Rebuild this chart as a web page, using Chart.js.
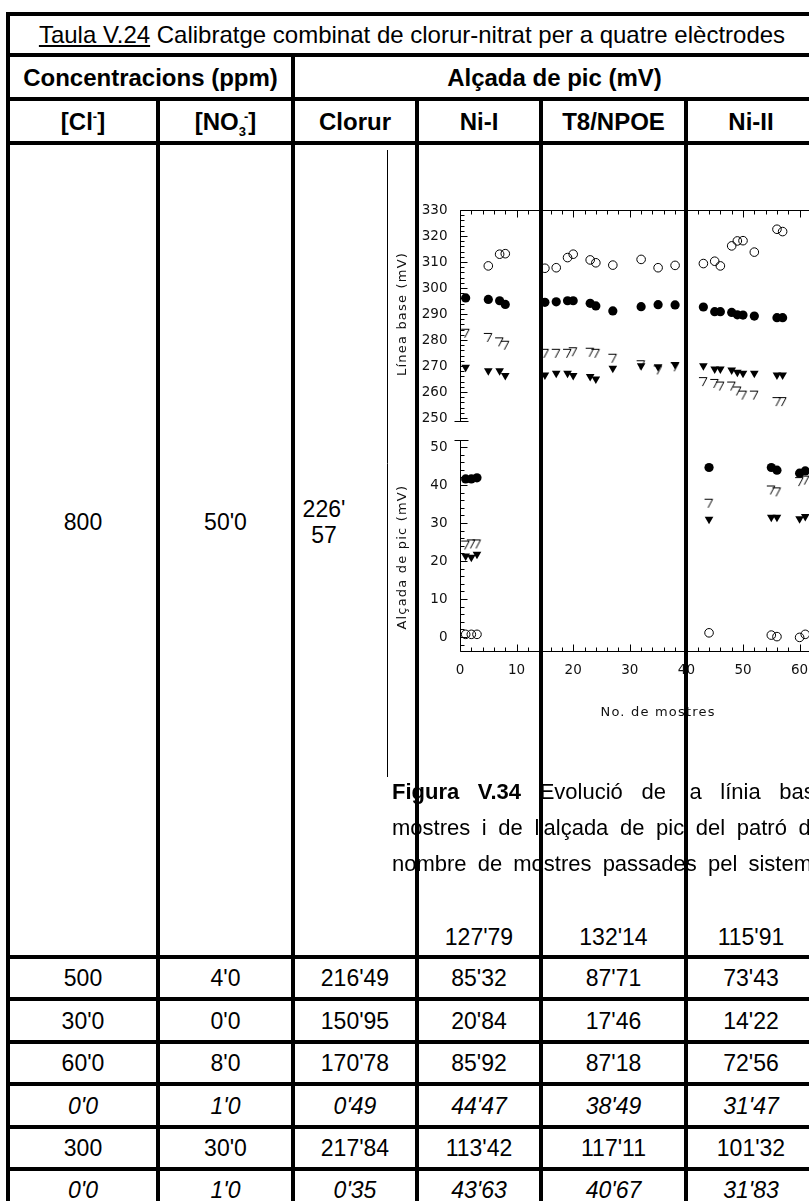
<!DOCTYPE html>
<html lang="ca">
<head>
<meta charset="utf-8">
<title>Taula V.24</title>
<script src="https://cdn.jsdelivr.net/npm/chart.js@4.4.0/dist/chart.umd.min.js"></script>
<style>
  html, body { margin: 0; padding: 0; background: #fff; overflow: hidden; }
  #page { position: relative; width: 809px; height: 1201px; overflow: hidden;
          font-family: "Liberation Sans", Arial, sans-serif; color: #000; }
  .ln  { position: absolute; background: #000; z-index: 3; }
  .txt { position: absolute; z-index: 2; text-align: center; white-space: nowrap;
         font-size: 23px; height: 40px; line-height: 40px; }
  .hd  { font-weight: bold; font-size: 24px; }
  .it  { font-style: italic; }
  #fig { position: absolute; left: 380px; top: 150px; z-index: 1; }
  .cap { position: absolute; left: 392px; z-index: 1; font-size: 22px; line-height: 36px; white-space: nowrap; }
  .sup { font-size: 13px; position: relative; top: -9px; }
  .sub { font-size: 13px; position: relative; top: 6px; }
</style>
</head>
<body>
<div id="page">
  <canvas id="fig" width="500" height="640"></canvas>
  <div class="cap" style="top:774px; word-spacing:12.5px"><b>Figura V.34</b> Evolució de la línia base</div>
  <div class="cap" style="top:810px; word-spacing:5.5px">mostres i de l'alçada de pic del patró de</div>
  <div class="cap" style="top:846px; word-spacing:5px">nombre de mostres passades pel sistema</div>
</div>
<script>
// --- 1. DATA ---

// Línia base (mV), panell superior
const baseOpenX = [5, 7, 8, 15, 17, 19, 20, 23, 24, 27, 32, 35, 38, 43, 45, 46, 48, 49, 50, 52, 56, 57];
const baseOpenY = [308.5, 313, 313.2, 307.6, 307.8, 311.7, 313, 310.8, 309.7, 308.8, 311, 307.8, 308.7,
                   309.4, 310.3, 308.5, 316.2, 318.1, 318.2, 313.8, 322.6, 321.7];
const baseX = [1, 5, 7, 8, 15, 17, 19, 20, 23, 24, 27, 32, 35, 38, 43, 45, 46, 48, 49, 50, 52, 56, 57];
const baseFilledY = [296.2, 295.6, 295.1, 293.7, 294.5, 294.7, 295.1, 295.1, 294.1, 293.1, 291.2, 292.8,
                     293.6, 293.5, 292.7, 290.9, 290.9, 290.6, 289.7, 289.6, 289.2, 288.6, 288.6];
const baseSevenY = [282.6, 281, 279.3, 278, 274.9, 274.9, 274.9, 275.5, 275.3, 274.9, 273, 270.5,
                    268.5, 269.7, 264, 263.3, 262.3, 262.3, 260.4, 258.8, 258.8, 256.3, 256.3];
const baseTriY = [269.5, 268.2, 268.2, 266.3, 266.5, 267.2, 267.2, 266.3, 266, 265, 269.1, 270.1,
                  269.7, 270.6, 270.1, 268.8, 268.8, 268.5, 267.6, 267.2, 267.2, 266.5, 266.5];

// Alçada de pic (mV), panell inferior
const peakX = [1, 2, 3, 44, 55, 56, 60, 61];
const peakFilledY = [41.6, 41.6, 41.9, 44.6, 44.6, 43.9, 43.1, 43.7];
const peakSevenY = [24.2, 24.5, 24.5, 35.2, 38.7, 38.2, 40.9, 41.3];
const peakTriY = [21.3, 21.0, 21.8, 31.0, 31.5, 31.5, 31.1, 31.7];
const peakOpenY = [0.7, 0.7, 0.7, 1.1, 0.5, 0.1, -0.1, 0.7];

const xTicks = [0, 10, 20, 30, 40, 50, 60, 70];
const baseTicks = [250, 260, 270, 280, 290, 300, 310, 320, 330];
const peakTicks = [0, 10, 20, 30, 40, 50];

// Taula
const tableTitle = '<span style="text-decoration:underline">Taula V.24</span> Calibratge combinat de clorur-nitrat per a quatre elèctrodes';
const groupHeads = ['Concentracions (ppm)', 'Alçada de pic (mV)'];
const colHeads = ['[Cl<span class="sup">-</span>]',
                  '[NO<span class="sub">3</span><span class="sup" style="margin-left:-2px">-</span>]',
                  'Clorur', 'Ni-I', 'T8/NPOE', 'Ni-II'];
const firstRowNi = ["127'79", "132'14", "115'91"];
const clValues     = ['500', "30'0", "60'0", "0'0", '300', "0'0"];
const no3Values    = ["4'0", "0'0", "8'0", "1'0", "30'0", "1'0"];
const clorurValues = ["216'49", "150'95", "170'78", "0'49", "217'84", "0'35"];
const niIValues    = ["85'32", "20'84", "85'92", "44'47", "113'42", "43'63"];
const t8Values     = ["87'71", "17'46", "87'18", "38'49", "117'11", "40'67"];
const niIIValues   = ["73'43", "14'22", "72'56", "31'47", "101'32", "31'83"];
const italicRows   = [false, false, false, true, false, true];

// --- 2. TABLE ---
const page = document.getElementById('page');
const colX = [8, 158, 293, 417, 541, 686, 816];
const rowY = [14, 55, 99, 143, 957, 999, 1042, 1084, 1127, 1169, 1211];

function addLine(x, y, w, h) {
    const d = document.createElement('div');
    d.className = 'ln';
    d.style.cssText = `left:${x}px;top:${y}px;width:${w}px;height:${h}px`;
    page.appendChild(d);
}
function addText(html, left, right, cy, cls) {
    const d = document.createElement('div');
    d.className = 'txt' + (cls ? ' ' + cls : '');
    d.style.left = left + 'px';
    d.style.width = (right - left) + 'px';
    d.style.top = (cy - 20) + 'px';
    d.innerHTML = html;
    page.appendChild(d);
    return d;
}

rowY.forEach(y => addLine(colX[0] - 2, y - 2, colX[6] - colX[0] + 4, 4));
addLine(colX[0] - 2, rowY[0] - 2, 4, rowY[10] - rowY[0] + 4);
addLine(colX[6] - 2, rowY[0] - 2, 4, rowY[10] - rowY[0] + 4);
addLine(colX[2] - 2, rowY[1], 4, rowY[10] - rowY[1]);
[1, 3, 4, 5].forEach(i => addLine(colX[i] - 2, rowY[2], 4, rowY[10] - rowY[2]));

addText(tableTitle, colX[0], colX[6], 35, '').style.fontSize = '24px';
addText(groupHeads[0], colX[0], colX[2], 78, 'hd');
addText(groupHeads[1], colX[2], colX[6], 78, 'hd');
colHeads.forEach((h, i) => addText(h, colX[i], colX[i + 1], 122, 'hd'));

addText('800', colX[0], colX[1], 522, '');
addText("50'0", colX[1], colX[2], 522, '');
addText("226'", 294, 354, 509, '');
addText('57', 294, 354, 535, '');
firstRowNi.forEach((v, i) => addText(v, colX[i + 3], colX[i + 4], 937, ''));

const tableCols = [clValues, no3Values, clorurValues, niIValues, t8Values, niIIValues];
clValues.forEach((_, r) => {
    const cy = (rowY[r + 4] + rowY[r + 5]) / 2;
    tableCols.forEach((col, c) => addText(col[r], colX[c], colX[c + 1], cy, italicRows[r] ? 'it' : ''));
});

// --- 3. CHART ---
// the open down-triangle of the scan prints like a small "7"
function sevenMarker() {
    const c = document.createElement('canvas');
    c.width = 11; c.height = 11;
    const g = c.getContext('2d');
    g.strokeStyle = '#000';
    g.lineWidth = 1;
    g.beginPath();
    g.moveTo(1, 1.5);
    g.lineTo(9, 1.5);
    g.lineTo(4.5, 10);
    g.stroke();
    return c;
}
const seven = sevenMarker();

function pts(xs, ys) {
    return xs.map((x, i) => ({ x: x, y: ys[i] }));
}
function set(xs, ys, axis, style) {
    return Object.assign({ data: pts(xs, ys), xAxisID: 'x', yAxisID: axis, showLine: false }, style);
}

const openStyle   = { pointStyle: 'circle', pointRadius: 4.3, pointBackgroundColor: 'rgba(0,0,0,0)', pointBorderColor: '#000', pointBorderWidth: 1 };
const filledStyle = { pointStyle: 'circle', pointRadius: 4.6, pointBackgroundColor: '#000', pointBorderColor: '#000', pointBorderWidth: 0 };
const sevenStyle  = { pointStyle: seven, pointRadius: 5 };
const triStyle    = { pointStyle: 'triangle', pointRotation: 180, pointRadius: 5, pointBackgroundColor: '#000', pointBorderColor: '#000', pointBorderWidth: 0 };

const frame = {
    id: 'frame',
    beforeDatasetsDraw(chart) {
        const { ctx, chartArea, scales } = chart;
        const x = scales.x, yb = scales.yb, yp = scales.yp;
        const px = v => Math.round(x.getPixelForValue(v)) + 0.5;
        const x0 = px(0);
        const yTop = Math.round(yb.getPixelForValue(330)) + 0.5;
        const yBot = Math.round(chartArea.bottom) - 0.5;
        const line = (a, b, c, d) => { ctx.beginPath(); ctx.moveTo(a, b); ctx.lineTo(c, d); ctx.stroke(); };

        ctx.save();
        ctx.strokeStyle = '#000';
        ctx.lineWidth = 1;

        // figure side rule
        line(7.5, 0, 7.5, 627);

        // top and bottom frames with inward ticks
        line(x0, yTop, chartArea.right, yTop);
        line(x0, yBot, chartArea.right, yBot);
        for (let v = 0; v <= 70; v += 2) {
            const len = v % 10 === 0 ? 7 : 4;
            line(px(v), yTop, px(v), yTop + len);
            line(px(v), yBot, px(v), yBot - len);
        }

        // upper left axis
        const yb0 = Math.round(yb.getPixelForValue(249)) + 0.5;
        line(x0, yTop, x0, yb0);
        line(x0 - 6, yb0, x0 + 8, yb0);
        for (let v = 250; v <= 330; v += 2) {
            const py = Math.round(yb.getPixelForValue(v)) + 0.5;
            line(x0, py, x0 + (v % 10 === 0 ? 7 : 4), py);
        }

        // lower left axis
        const yp1 = Math.round(yp.getPixelForValue(51.8)) + 0.5;
        line(x0, yp1, x0, yBot);
        line(x0 - 6, yp1, x0 + 8, yp1);
        for (let v = -2; v <= 50; v += 2) {
            const py = Math.round(yp.getPixelForValue(v)) + 0.5;
            line(x0, py, x0 + (v % 10 === 0 ? 7 : 4), py);
        }

        // tick labels
        ctx.fillStyle = '#111';
        ctx.font = '13.5px "DejaVu Sans"';
        ctx.textAlign = 'right';
        ctx.textBaseline = 'middle';
        baseTicks.forEach(v => ctx.fillText(String(v), x0 - 13, yb.getPixelForValue(v)));
        peakTicks.forEach(v => ctx.fillText(String(v), x0 - 13, yp.getPixelForValue(v)));
        ctx.textAlign = 'center';
        xTicks.forEach(v => ctx.fillText(String(v), x.getPixelForValue(v), yBot + 18.5));

        // axis titles
        ctx.font = '13px "DejaVu Sans"';
        ctx.letterSpacing = '1.2px';
        ctx.fillText('No. de mostres', x.getPixelForValue(35), yBot + 61.5);
        ctx.save();
        ctx.translate(23, yb.getPixelForValue(290));
        ctx.rotate(-Math.PI / 2);
        ctx.fillText('Línea base (mV)', 0, 0);
        ctx.restore();
        ctx.save();
        ctx.translate(23, yp.getPixelForValue(21));
        ctx.rotate(-Math.PI / 2);
        ctx.fillText('Alçada de pic (mV)', 0, 0);
        ctx.restore();

        ctx.restore();
    }
};

new Chart(document.getElementById('fig'), {
    type: 'scatter',
    data: {
        datasets: [
            set(baseX, baseSevenY, 'yb', sevenStyle),
            set(baseX, baseTriY, 'yb', triStyle),
            set(baseOpenX, baseOpenY, 'yb', openStyle),
            set(baseX, baseFilledY, 'yb', filledStyle),
            set(peakX, peakSevenY, 'yp', sevenStyle),
            set(peakX, peakTriY, 'yp', triStyle),
            set(peakX, peakOpenY, 'yp', openStyle),
            set(peakX, peakFilledY, 'yp', filledStyle)
        ]
    },
    options: {
        responsive: false,
        animation: false,
        layout: { padding: { left: 80, top: 60, right: 23.8, bottom: 138 } },
        plugins: { legend: { display: false }, tooltip: { enabled: false } },
        scales: {
            x:  { type: 'linear', min: 0, max: 70, display: false },
            yb: { type: 'linear', min: 160, max: 330, display: false },
            yp: { type: 'linear', min: -3.947, max: 112.37, display: false }
        }
    },
    plugins: [frame]
});
</script>
</body>
</html>
